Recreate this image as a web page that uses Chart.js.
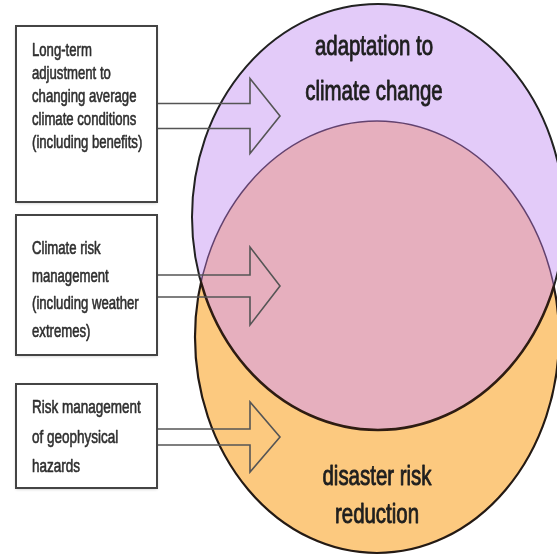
<!DOCTYPE html>
<html>
<head>
<meta charset="utf-8">
<script src="https://cdn.jsdelivr.net/npm/chart.js@4.4.0/dist/chart.umd.min.js"></script>
<style>
  html, body { margin: 0; padding: 0; background: #fff; }
  #wrap { width: 557px; height: 559px; position: relative; }
</style>
</head>
<body>
<div id="wrap"><canvas id="chVenn"></canvas></div>
<script>
/* venn diagram: adaptation vs disaster risk reduction */

// the two sets (units = picture grid, 557 x 559)
var setNames = ['adaptation to climate change', 'disaster risk reduction'];
var setTitles = [['adaptation to', 'climate change'], ['disaster risk', 'reduction']];
var centerX = [378, 377];
var centerY = [217, 337];
var radiusX = [186, 182];
var radiusY = [213, 216];

// callout boxes on the left
var calloutTexts = [
    ['Long-term', 'adjustment to', 'changing average', 'climate conditions', '(including benefits)'],
    ['Climate risk', 'management', '(including weather', 'extremes)'],
    ['Risk management', 'of geophysical', 'hazards']
];

// colors
var fillColors = ['#e3cbf9', '#fcc97f'];
var overlapColor = '#e6afbe';
var font = "'Liberation Sans', Arial, sans-serif";
var squeeze = 0.73; // the picture is narrow, so is its type

// layout (picture grid units)
var titleLayout = [
    { x: 374, y: [47, 92] },
    { x: 377, y: [477, 515] }
];
var boxLayout = [
    { left: 16, top: 26, right: 157, bottom: 202, textX: 32, firstLine: 51, lineGap: 23, size: 18, arrowY: 116, shaft: 12.5, head: 37.5 },
    { left: 16, top: 215, right: 157, bottom: 355, textX: 32, firstLine: 249, lineGap: 27.7, size: 18, arrowY: 286, shaft: 11, head: 39 },
    { left: 16, top: 384, right: 157, bottom: 488, textX: 32, firstLine: 408, lineGap: 29.5, size: 18.5, arrowY: 437, shaft: 8, head: 35 }
];
var arrowBaseX = 250, arrowTipX = 280;

// squeezed text, with a thin stroke so it reads as heavy as the scan
function narrowText(ctx, s, x, y, weight) {
    ctx.save();
    ctx.translate(x, y);
    ctx.scale(squeeze, 1);
    ctx.lineWidth = weight;
    ctx.strokeStyle = ctx.fillStyle;
    ctx.lineJoin = 'round';
    ctx.strokeText(s, 0, 0);
    ctx.fillText(s, 0, 0);
    ctx.restore();
}

var vennPlugin = {
    id: 'venn',
    beforeDatasetsDraw: function (chart) {
        var ctx = chart.ctx, xs = chart.scales.x, ys = chart.scales.y;
        var W = chart.width, H = chart.height;

        function ell(i) {
            var cx = xs.getPixelForValue(centerX[i]), cy = ys.getPixelForValue(centerY[i]);
            var rx = Math.abs(xs.getPixelForValue(centerX[i] + radiusX[i]) - cx);
            var ry = Math.abs(ys.getPixelForValue(centerY[i] + radiusY[i]) - cy);
            ctx.ellipse(cx, cy, rx, ry, 0, 0, Math.PI * 2);
        }

        ctx.save();
        // fills
        ctx.beginPath(); ell(0); ctx.fillStyle = fillColors[0]; ctx.fill();
        ctx.beginPath(); ell(1); ctx.fillStyle = fillColors[1]; ctx.fill();
        ctx.save();
        ctx.beginPath(); ell(0); ctx.clip();
        ctx.beginPath(); ell(1); ctx.fillStyle = overlapColor; ctx.fill();
        // orange rim inside the purple set: thin, purplish
        ctx.beginPath(); ell(1); ctx.strokeStyle = 'rgba(75,45,95,0.85)'; ctx.lineWidth = 1.5; ctx.stroke();
        ctx.restore();

        // purple rim inside the orange set: thick, dark brown
        ctx.save();
        ctx.beginPath(); ell(1); ctx.clip();
        ctx.beginPath(); ell(0); ctx.strokeStyle = '#2e1c12'; ctx.lineWidth = 2.6; ctx.stroke();
        ctx.restore();

        // outer rims
        ctx.save();
        ctx.beginPath(); ctx.rect(0, 0, W, H); ell(1); ctx.clip('evenodd');
        ctx.beginPath(); ell(0); ctx.strokeStyle = '#222'; ctx.lineWidth = 2; ctx.stroke();
        ctx.restore();
        ctx.save();
        ctx.beginPath(); ctx.rect(0, 0, W, H); ell(0); ctx.clip('evenodd');
        ctx.beginPath(); ell(1); ctx.strokeStyle = '#241a14'; ctx.lineWidth = 2.2; ctx.stroke();
        ctx.restore();

        // set titles
        ctx.fillStyle = '#1e1e1e';
        ctx.font = '28px ' + font;
        ctx.textAlign = 'center';
        ctx.textBaseline = 'middle';
        setTitles.forEach(function (lines, i) {
            lines.forEach(function (t, j) {
                narrowText(ctx, t, xs.getPixelForValue(titleLayout[i].x), ys.getPixelForValue(titleLayout[i].y[j]), 0.9);
            });
        });

        // callout boxes + arrows
        calloutTexts.forEach(function (lines, i) {
            var b = boxLayout[i];
            var l = xs.getPixelForValue(b.left), r = xs.getPixelForValue(b.right);
            var t = ys.getPixelForValue(b.top), btm = ys.getPixelForValue(b.bottom);

            // arrow outline
            var ay = ys.getPixelForValue(b.arrowY);
            var bx = xs.getPixelForValue(arrowBaseX), tx = xs.getPixelForValue(arrowTipX);
            ctx.beginPath();
            ctx.moveTo(r, ay - b.shaft);
            ctx.lineTo(bx, ay - b.shaft);
            ctx.lineTo(bx, ay - b.head);
            ctx.lineTo(tx, ay);
            ctx.lineTo(bx, ay + b.head);
            ctx.lineTo(bx, ay + b.shaft);
            ctx.lineTo(r, ay + b.shaft);
            ctx.strokeStyle = '#555';
            ctx.lineWidth = 1.6;
            ctx.stroke();

            // box
            ctx.save();
            ctx.shadowColor = 'rgba(0,0,0,0.25)';
            ctx.shadowBlur = 3;
            ctx.shadowOffsetY = 1;
            ctx.fillStyle = '#fff';
            ctx.fillRect(l, t, r - l, btm - t);
            ctx.restore();
            ctx.strokeStyle = '#444';
            ctx.lineWidth = 2;
            ctx.strokeRect(l, t, r - l, btm - t);

            ctx.fillStyle = '#2e2e2e';
            ctx.font = b.size + 'px ' + font;
            ctx.textAlign = 'left';
            ctx.textBaseline = 'middle';
            lines.forEach(function (s, j) {
                narrowText(ctx, s, xs.getPixelForValue(b.textX), ys.getPixelForValue(b.firstLine + j * b.lineGap), 0.6);
            });
        });
        ctx.restore();
    }
};

var chVenn = document.getElementById('chVenn');
new Chart(chVenn, {
    type: 'scatter',
    data: {
        datasets: setNames.map(function (name, i) {
            return {
                label: name,
                data: [{ x: centerX[i], y: centerY[i] }],
                backgroundColor: fillColors[i],
                pointRadius: 0,
                pointHoverRadius: 0
            };
        })
    },
    options: {
        responsive: true,
        maintainAspectRatio: false,
        animation: false,
        layout: { padding: 0 },
        plugins: { legend: { display: false }, tooltip: { enabled: false } },
        scales: {
            x: { type: 'linear', min: 0, max: 557, display: false },
            y: { type: 'linear', min: 0, max: 559, reverse: true, display: false }
        }
    },
    plugins: [vennPlugin]
});
</script>
</body>
</html>
